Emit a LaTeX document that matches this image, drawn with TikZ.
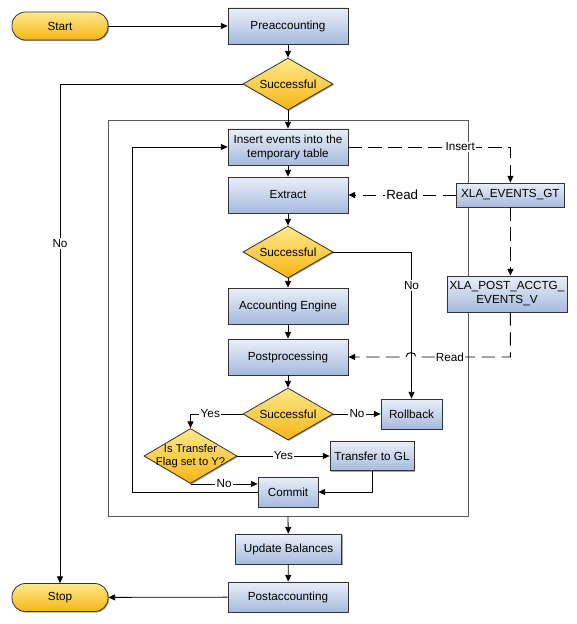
\documentclass[tikz,border=0pt]{standalone}
\usepackage{fontspec}
\setmainfont{Liberation Sans}
\usetikzlibrary{shapes.geometric,shadows,arrows.meta}
\definecolor{procTop}{HTML}{EAEFF8}
\definecolor{procBot}{HTML}{A5BADD}
\definecolor{termTop}{HTML}{FFE98A}
\definecolor{termBot}{HTML}{F6B516}

\begin{document}
\begin{tikzpicture}[x=0.75pt,y=-0.75pt,
    font=\fontsize{8.8}{10.5}\selectfont,
    >={Triangle[length=5pt,width=4.5pt]},
    boxshadow/.style={drop shadow={shadow xshift=0.8pt,shadow yshift=-0.8pt,opacity=0.35,fill=black}},
    process/.style={draw=black!80,line width=0.6pt,top color=procTop,bottom color=procBot,
      boxshadow,minimum width=90pt,minimum height=27pt,align=center,inner xsep=2pt,inner ysep=1pt},
    terminal/.style={draw=black!80,line width=0.6pt,top color=termTop,bottom color=termBot,
      boxshadow,rounded corners=10pt,minimum width=72pt,minimum height=21pt},
    decision/.style={diamond,draw=black!80,line width=0.6pt,top color=termTop,bottom color=termBot,
      boxshadow,minimum width=67.5pt,minimum height=39pt,inner sep=0pt,shape aspect=1.7},
    flow/.style={->,line width=0.6pt},
    dataflow/.style={->,line width=0.7pt,dash pattern=on 10pt off 5pt},
    tag/.style={fill=white,inner sep=1pt}]
    \useasboundingbox (0,0) rectangle (576,624);
    % loop frame
    \node[draw=black!65,line width=0.6pt,minimum width=270pt,minimum height=297pt,inner sep=0pt] (loop) at (288,318) {};
    % main column
    \node[terminal] (start) at (60,26) {Start};
    \node[process] (pre) at (288,26) {Preaccounting};
    \node[decision] (ok1) at (288,84) {Successful};
    \node[process] (insert) at (288,147) {Insert events into the\\temporary table};
    \node[process] (extract) at (288,195) {Extract};
    \node[decision] (ok2) at (288,252) {Successful};
    \node[process] (engine) at (288,306) {Accounting Engine};
    \node[process] (post) at (288,357) {Postprocessing};
    \node[decision] (ok3) at (288,414) {Successful};
    \node[process,minimum width=45.75pt,minimum height=22.5pt] (rollback) at (411.5,414) {Rollback};
    \node[decision,minimum width=69.75pt,minimum height=41.25pt,
      label={[align=center,font=\fontsize{8.4}{10}\selectfont]center:Is Transfer\\Flag set to Y?}] (flag) at (190.5,456) {};
    \node[process,minimum width=63pt,minimum height=21.75pt] (gl) at (372,456) {Transfer to GL};
    \node[process,minimum width=45pt,minimum height=22.5pt] (commit) at (288,492) {Commit};
    \node[process,minimum width=81pt,minimum height=18pt] (gt) at (510.4,195) {XLA\_EVENTS\_GT};
    \node[process,minimum width=85.5pt,minimum height=27pt] (view) at (507,294) {XLA\_POST\_ACCTG\_\\EVENTS\_V};
    \node[process,minimum width=80pt,minimum height=22.5pt] (balances) at (288.5,549) {Update Balances};
    \node[process,minimum height=22.5pt] (postacc) at (288,597) {Postaccounting};
    \node[terminal] (stop) at (60,597.5) {Stop};
    \coordinate (back) at (132,147);
    \coordinate (hopR) at (416,357);
    \coordinate (hopL) at (406,357);
    % connectors
    \draw[flow] (start) -- (pre);
    \draw[flow] (pre) -- (ok1);
    \draw[flow] (ok1) -- (insert);
    \draw[flow] (ok1.west) -| node[tag,pos=0.66]{No} (stop.north);
    \draw[flow] (insert) -- (extract);
    \draw[flow] (extract) -- (ok2);
    \draw[flow] (ok2) -- (engine);
    \draw[flow] (engine) -- (post);
    \draw[flow] (post) -- (ok3);
    \draw[flow] (ok2.east) -| node[tag,pos=0.615]{No} (rollback.north);
    \draw[flow] (ok3) -- node[tag]{No} (rollback);
    \draw[flow] (ok3.west) -| node[tag,pos=0.31]{Yes} (flag.north);
    \draw[flow] (flag.east) -- node[tag]{Yes} (flag.east -| gl.west);
    \draw[flow] (flag.south) -- node[tag]{No} (flag.south -| commit.west);
    \draw[flow] (gl.south) |- (commit.east);
    \draw[flow] (commit.west) -| (back) -- (insert.west);
    \draw[flow] (loop.south) -- (balances);
    \draw[flow] (balances) -- (postacc);
    \draw[flow] (postacc) -- (stop);
    % data access
    \draw[dataflow] (insert.east) -| node[tag,pos=0.345]{Insert} (gt.north);
    \draw[dataflow] (gt) -- node[tag,font=\fontsize{10}{12}\selectfont]{Read} (extract);
    \draw[dataflow] (gt.south) -- (gt |- view.north);
    \draw[dataflow] (gt |- view.south) -- (gt |- post) -- node[tag,pos=0.64]{Read} (hopR)
      to[out=90,in=90,looseness=1.5] (hopL) -- (post.east);
\end{tikzpicture}
\end{document}
